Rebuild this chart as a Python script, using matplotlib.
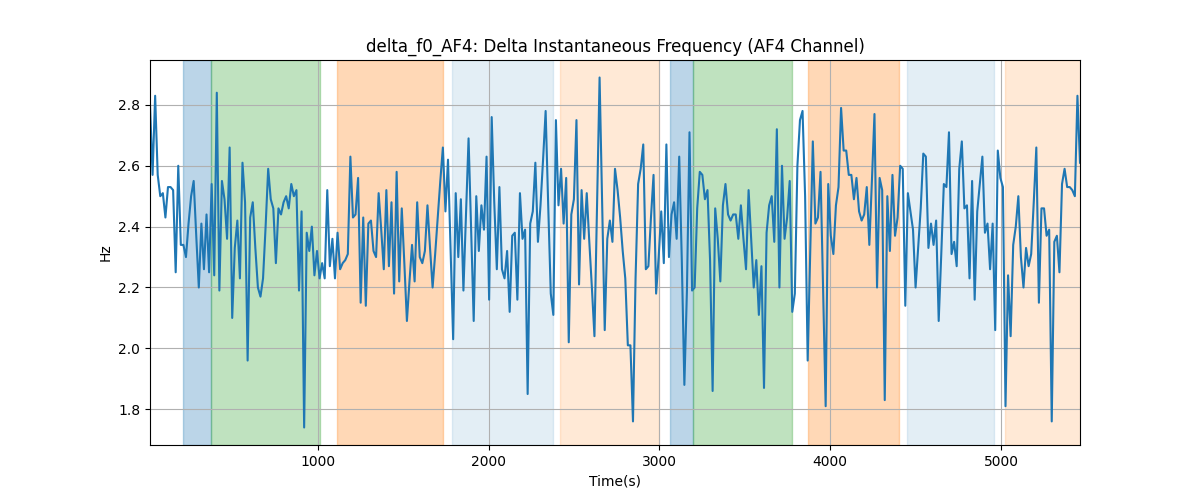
import numpy as np
import matplotlib
matplotlib.use("Agg")
import matplotlib.pyplot as plt

# Time range of the recording (s)
t_start = 16
t_end = 5463

# delta f0 values, left to right
delta_f0 = [
    2.80, 2.57, 2.83, 2.57, 2.50, 2.51, 2.43, 2.53, 2.53, 2.52, 2.25, 2.60, 2.34, 2.34, 2.30,
    2.41, 2.50, 2.55, 2.37, 2.20, 2.41, 2.26, 2.44, 2.25, 2.54, 2.24, 2.84, 2.19, 2.55, 2.49,
    2.36, 2.66, 2.10, 2.33, 2.42, 2.23, 2.61, 2.48, 1.96, 2.43, 2.48, 2.33, 2.20, 2.17, 2.23,
    # ---
    2.40, 2.59, 2.49, 2.46, 2.28, 2.46, 2.44, 2.48, 2.50, 2.46, 2.54, 2.50, 2.52, 2.19, 2.45,
    1.74, 2.38, 2.32, 2.40, 2.24, 2.32, 2.23, 2.28, 2.23, 2.52, 2.27, 2.36, 2.23, 2.38, 2.26,
    2.28, 2.29, 2.31, 2.63, 2.43, 2.44, 2.56, 2.15, 2.43, 2.14, 2.41, 2.42, 2.32, 2.30, 2.51,
    # ---
    2.39, 2.26, 2.52, 2.27, 2.48, 2.18, 2.58, 2.22, 2.46, 2.28, 2.09, 2.22, 2.34, 2.22, 2.48,
    2.30, 2.28, 2.32, 2.47, 2.33, 2.20, 2.31, 2.43, 2.55, 2.66, 2.45, 2.62, 2.33, 2.03, 2.51,
    2.30, 2.49, 2.19, 2.44, 2.69, 2.39, 2.09, 2.50, 2.32, 2.47, 2.39, 2.63, 2.16, 2.76, 2.48,
    # ---
    2.26, 2.53, 2.26, 2.23, 2.32, 2.12, 2.37, 2.38, 2.16, 2.51, 2.36, 2.39, 1.85, 2.41, 2.45,
    2.61, 2.35, 2.47, 2.62, 2.78, 2.47, 2.18, 2.11, 2.75, 2.47, 2.59, 2.41, 2.56, 2.02, 2.44,
    2.49, 2.75, 2.21, 2.52, 2.36, 2.51, 2.35, 2.20, 2.04, 2.46, 2.89, 2.47, 2.06, 2.36, 2.42,
    2.35,
    # ---
    2.59, 2.52, 2.43, 2.32, 2.23, 2.01, 2.01, 1.76, 2.23, 2.54, 2.59, 2.67, 2.26, 2.27, 2.43,
    2.57, 2.18, 2.30, 2.45, 2.28, 2.67, 2.30, 2.44, 2.48, 2.36, 2.63, 2.29, 1.88, 2.19, 2.71,
    2.19, 2.20, 2.46, 2.58, 2.57, 2.49, 2.52, 2.29, 1.86, 2.46, 2.36, 2.22, 2.47, 2.54, 2.44,
    # ---
    2.42, 2.44, 2.44, 2.36, 2.47, 2.36, 2.26, 2.52, 2.36, 2.20, 2.29, 2.11, 2.27, 1.87, 2.38,
    2.47, 2.50, 2.35, 2.72, 2.20, 2.60, 2.36, 2.43, 2.55, 2.12, 2.18, 2.60, 2.75, 2.78, 2.50,
    1.96, 2.32, 2.68, 2.41, 2.43, 2.58, 2.20, 1.81, 2.54, 2.37, 2.31, 2.47, 2.53, 2.79, 2.65,
    # ---
    2.65, 2.57, 2.57, 2.49, 2.56, 2.45, 2.42, 2.44, 2.53, 2.34, 2.55, 2.77, 2.20, 2.56, 2.52,
    1.83, 2.50, 2.32, 2.57, 2.37, 2.43, 2.60, 2.59, 2.14, 2.51, 2.45, 2.39, 2.20, 2.33, 2.46,
    2.64, 2.63, 2.33, 2.41, 2.34, 2.42, 2.09, 2.31, 2.54, 2.53, 2.71, 2.31, 2.35, 2.27, 2.59,
    2.68,
    # ---
    2.46, 2.47, 2.23, 2.55, 2.16, 2.45, 2.54, 2.63, 2.38, 2.41, 2.26, 2.41, 2.06, 2.65, 2.56,
    2.53, 1.81, 2.24, 2.04, 2.34, 2.40, 2.50, 2.30, 2.20, 2.33, 2.27, 2.31, 2.48, 2.66, 2.15,
    2.46, 2.46, 2.37, 2.39, 1.76, 2.35, 2.37, 2.25, 2.54, 2.59, 2.53, 2.53, 2.52, 2.50, 2.83,
    2.61,
]

# Shaded segments: (start, end, colour, alpha)
seg_start = [209, 373, 1113, 1785, 2417, 3063, 3198, 3870, 4449, 5023]
seg_end = [373, 1012, 1732, 2377, 2999, 3198, 3776, 4401, 4959, 5500]
seg_color = ["tab:blue", "tab:green", "tab:orange", "tab:blue", "tab:orange",
             "tab:blue", "tab:green", "tab:orange", "tab:blue", "tab:orange"]
seg_alpha = [0.3, 0.3, 0.3, 0.12, 0.17, 0.3, 0.3, 0.3, 0.12, 0.17]

t = np.linspace(t_start, t_end, len(delta_f0))

fig, ax = plt.subplots(figsize=(12, 5), dpi=100)

for s, e, c, a in zip(seg_start, seg_end, seg_color, seg_alpha):
    ax.axvspan(s, e, color=c, alpha=a)

ax.plot(t, delta_f0, color="tab:blue", lw=1.5)

ax.set_xlim(t_start, t_end)
ax.grid(True)
ax.set_title("delta_f0_AF4: Delta Instantaneous Frequency (AF4 Channel)")
ax.set_xlabel("Time(s)")
ax.set_ylabel("Hz")

plt.savefig("out.png")
